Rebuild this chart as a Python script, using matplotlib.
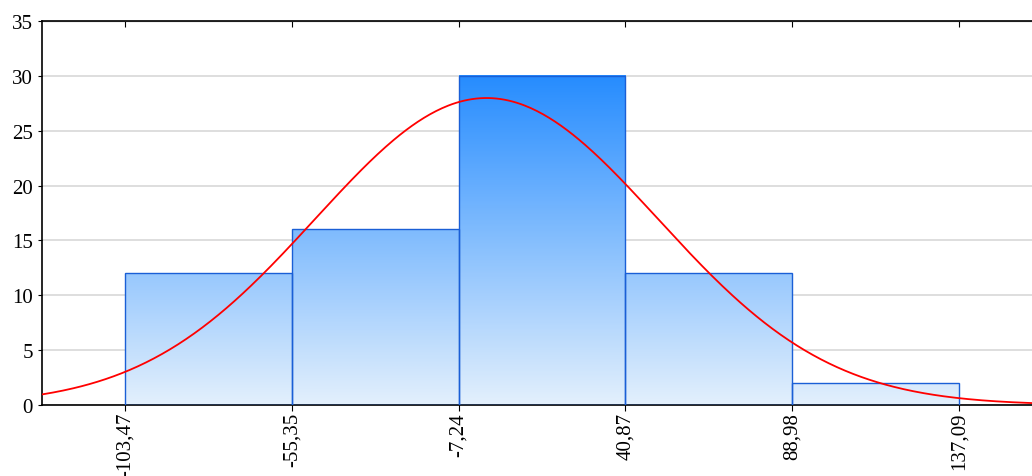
import matplotlib.pyplot as plt
import numpy as np
from matplotlib.colors import LinearSegmentedColormap

# histogram data
edges = [-103.47, -55.35, -7.24, 40.87, 88.98, 137.09]
counts = [12, 16, 30, 12, 2]
edge_labels = ['-103,47', '-55,35', '-7,24', '40,87', '88,98', '137,09']

# fitted normal curve parameters
mu = 0.8
sigma = 49.4
n_total = sum(counts)
bin_w = edges[1] - edges[0]

plt.rcParams['font.family'] = ['Liberation Serif', 'DejaVu Serif']

fig = plt.figure(figsize=(10.32, 4.77), dpi=100)
ax = fig.add_axes([42/1032, 71/477, 990/1032, 384/477])

cmap = LinearSegmentedColormap.from_list('blues', [(0.89, 0.94, 0.99), (0.15, 0.55, 1.0)])
ymax_grad = max(counts)

for i, c in enumerate(counts):
    x0, x1 = edges[i], edges[i + 1]
    grad = np.linspace(c / ymax_grad, 0, 200).reshape(-1, 1)
    ax.imshow(grad, cmap=cmap, vmin=0, vmax=1, aspect='auto',
              extent=[x0, x1, 0, c], zorder=2, interpolation='bilinear')
    ax.add_patch(plt.Rectangle((x0, 0), x1 - x0, c, fill=False,
                               edgecolor='#1a5fd6', lw=1.0, zorder=3))

xs = np.linspace(-130, 160, 500)
ys = n_total * bin_w / (sigma * np.sqrt(2 * np.pi)) * np.exp(-0.5 * ((xs - mu) / sigma) ** 2)
ax.plot(xs, ys, color='red', lw=1.3, zorder=4)

ax.set_xlim(-127.4, 158.1)
ax.set_ylim(0, 35)
ax.set_yticks(range(0, 36, 5))
ax.set_xticks(edges)
ax.set_xticklabels(edge_labels, rotation=90, fontsize=15)
ax.tick_params(axis='y', labelsize=15, length=3)
ax.tick_params(axis='x', length=4, direction='out', pad=1)
top = ax.secondary_xaxis('top')
top.set_xticks(edges, labels=[])
top.tick_params(direction='in', length=4)
ax.grid(axis='y', color='#d8d8d8', lw=1.2, zorder=0)
ax.set_axisbelow(True)
ax.spines['right'].set_visible(False)
for s in ['left', 'bottom', 'top']:
    ax.spines[s].set_linewidth(1.2)

fig.savefig('out.png', dpi=100)
